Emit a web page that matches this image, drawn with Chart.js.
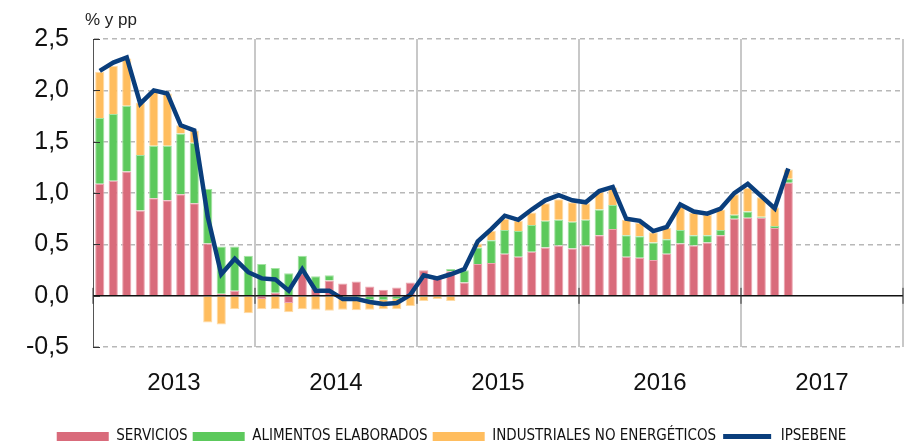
<!DOCTYPE html>
<html>
<head>
<meta charset="utf-8">
<script src="https://cdn.jsdelivr.net/npm/chart.js@4/dist/chart.umd.min.js"></script>
<style>
  body { margin: 0; background: #fff; }
</style>
</head>
<body>
<canvas id="grafico" width="906" height="444"></canvas>
<script>
// categorias
const anios = ['2013', '2014', '2015', '2016', '2017'];
const mesesAbrev = ['ene', 'feb', 'mar', 'abr', 'may', 'jun', 'jul', 'ago', 'sep', 'oct', 'nov', 'dic'];

// contribuciones (pp), ene-2013 .. abr-2017
const servicios = [
  1.09, 1.12, 1.21, 0.83, 0.95, 0.93, 0.99, 0.90, 0.51, 0.02, 0.05, 0.00,
  -0.03, 0.03, -0.07, 0.22, 0.07, 0.15, 0.12, 0.14, 0.09, 0.06, 0.08, 0.13,
  0.25, 0.18, 0.24, 0.13, 0.31, 0.32, 0.41, 0.38, 0.43, 0.47, 0.49, 0.46,
  0.49, 0.59, 0.65, 0.38, 0.37, 0.35, 0.41, 0.51, 0.49, 0.52, 0.59, 0.75,
  0.76, 0.76, 0.66, 1.10
];
const alimentos = [
  0.64, 0.65, 0.64, 0.54, 0.51, 0.53, 0.59, 0.59, 0.53, 0.46, 0.43, 0.39,
  0.31, 0.24, 0.22, 0.17, 0.12, 0.05, -0.03, -0.03, -0.04, -0.04, -0.03, -0.01,
  -0.01, 0.01, 0.02, 0.12, 0.16, 0.22, 0.23, 0.25, 0.26, 0.26, 0.25, 0.26,
  0.25, 0.25, 0.235, 0.21, 0.21, 0.17, 0.14, 0.13, 0.10, 0.07, 0.05, 0.04,
  0.06, 0.01, 0.02, 0.04
];
const industriales = [
  0.45, 0.47, 0.46, 0.51, 0.54, 0.51, 0.08, 0.12, -0.26, -0.28, -0.13, -0.17,
  -0.10, -0.13, -0.09, -0.13, -0.135, -0.145, -0.105, -0.11, -0.095, -0.09, -0.10, -0.09,
  -0.04, -0.03, -0.05, -0.01, 0.04, 0.09, 0.11, 0.10, 0.12, 0.17, 0.20, 0.19,
  0.16, 0.17, 0.17, 0.15, 0.13, 0.10, 0.11, 0.23, 0.22, 0.20, 0.20, 0.20,
  0.23, 0.19, 0.18, 0.09
];
const ipsebene = [
  2.19, 2.27, 2.32, 1.87, 2.00, 1.97, 1.66, 1.61, 0.77, 0.21, 0.36, 0.23,
  0.17, 0.16, 0.05, 0.26, 0.05, 0.05, -0.03, -0.03, -0.06, -0.08, -0.07, 0.01,
  0.20, 0.17, 0.21, 0.26, 0.53, 0.65, 0.78, 0.74, 0.84, 0.93, 0.98, 0.93,
  0.91, 1.02, 1.06, 0.75, 0.73, 0.63, 0.67, 0.89, 0.82, 0.80, 0.85, 1.00,
  1.09, 0.97, 0.85, 1.24
];

// ejes
const ticksY = [-0.5, 0, 0.5, 1, 1.5, 2, 2.5];
const tituloY = '% y pp';

let meses = [];
for (let a of anios) {
  for (let m of mesesAbrev) meses.push(m + '-' + a);
}

const fuente = "'Liberation Sans', Arial, sans-serif";
const fuenteLeyenda = "'Liberation Sans Narrow', 'DejaVu Sans Condensed', 'Liberation Sans', sans-serif";

const marcas = {
  id: 'marcas',
  afterDatasetsDraw(chart) {
    const ctx = chart.ctx;
    const a = chart.chartArea;
    const y = chart.scales.y;
    const y0 = y.getPixelForValue(0);
    ctx.save();
    // linea del cero
    ctx.strokeStyle = '#111';
    ctx.lineWidth = 1.5;
    ctx.beginPath();
    ctx.moveTo(a.left, y0);
    ctx.lineTo(a.right, y0);
    ctx.stroke();
    // marcas del eje y hacia dentro
    ctx.strokeStyle = '#333';
    ctx.lineWidth = 1;
    ctx.beginPath();
    ticksY.forEach(v => {
      let py = Math.round(y.getPixelForValue(v)) + 0.5;
      ctx.moveTo(a.left, py);
      ctx.lineTo(a.left + 7, py);
    });
    // marcas de año sobre el cero
    for (let i = 0; i <= anios.length; i++) {
      let px = a.left + i * (a.right - a.left) / anios.length;
      ctx.moveTo(px, y0 - 8);
      ctx.lineTo(px, y0 + 8);
    }
    ctx.stroke();
    // titulo del eje
    ctx.fillStyle = '#222';
    ctx.font = "17px " + fuente;
    ctx.textBaseline = 'alphabetic';
    ctx.fillText(tituloY, 85, 25);
    ctx.restore();
  }
};

new Chart(document.getElementById('grafico'), {
  type: 'bar',
  data: {
    labels: meses,
    datasets: [
      {
        label: 'SERVICIOS',
        data: servicios,
        backgroundColor: '#D96B7B',
        borderColor: '#ECA6B0',
        borderWidth: 1,
        order: 1
      },
      {
        label: 'ALIMENTOS ELABORADOS',
        data: alimentos,
        backgroundColor: '#5CC95C',
        borderColor: '#A3E3A2',
        borderWidth: 1,
        order: 1
      },
      {
        label: 'INDUSTRIALES NO ENERGÉTICOS',
        data: industriales,
        backgroundColor: '#FFBD5E',
        borderColor: '#FFDCA6',
        borderWidth: 1,
        order: 1
      },
      {
        type: 'line',
        label: 'IPSEBENE',
        data: ipsebene,
        borderColor: '#0A3E7C',
        backgroundColor: '#0A3E7C',
        borderWidth: 4.5,
        pointRadius: 0,
        tension: 0,
        stack: 'linea',
        order: 0
      }
    ]
  },
  options: {
    responsive: false,
    animation: false,
    layout: { padding: { top: 33, right: 3, left: 0, bottom: -10 } },
    datasets: { bar: { barPercentage: 0.68, categoryPercentage: 1 } },
    scales: {
      x: {
        display: false,
        stacked: true,
        offset: true
      },
      x2: {
        type: 'category',
        labels: anios,
        position: 'bottom',
        offset: true,
        afterFit: s => { s.height += 4; },
        grid: {
          offset: true,
          drawTicks: false,
          color: c => c.index === 0 ? 'rgba(0,0,0,0)' : '#C8C8C8',
          lineWidth: 2
        },
        border: { display: false },
        ticks: {
          color: '#111',
          padding: 22,
          font: { family: fuente, size: 24 }
        }
      },
      y: {
        stacked: true,
        min: -0.5,
        max: 2.5,
        afterFit: s => { s.width = 93; },
        ticks: {
          stepSize: 0.5,
          padding: 24,
          color: '#111',
          font: { family: fuente, size: 25 },
          callback: v => v.toFixed(1).replace('.', ',')
        },
        grid: {
          drawTicks: false,
          color: c => c.tick && c.tick.value === 0 ? 'rgba(0,0,0,0)' : '#B8B8B8',
          lineWidth: 1.5
        },
        border: { color: '#555', width: 1, dash: [5, 4] }
      }
    },
    plugins: {
      tooltip: { enabled: false },
      legend: {
        position: 'bottom',
        labels: {
          boxWidth: 52,
          boxHeight: 9,
          padding: 5,
          color: '#111',
          font: { family: fuenteLeyenda, size: 15 },
          sort: (a, b) => a.datasetIndex - b.datasetIndex,
          generateLabels: chart => {
            let items = Chart.defaults.plugins.legend.labels.generateLabels(chart);
            items.forEach(it => {
              if (it.datasetIndex === 3) {
                it.fillStyle = '#0A3E7C';
                it.strokeStyle = '#ffffff';
                it.lineWidth = 4;
              } else {
                it.lineWidth = 0;
              }
            });
            return items;
          }
        }
      }
    }
  },
  plugins: [marcas]
});
</script>
</body>
</html>
